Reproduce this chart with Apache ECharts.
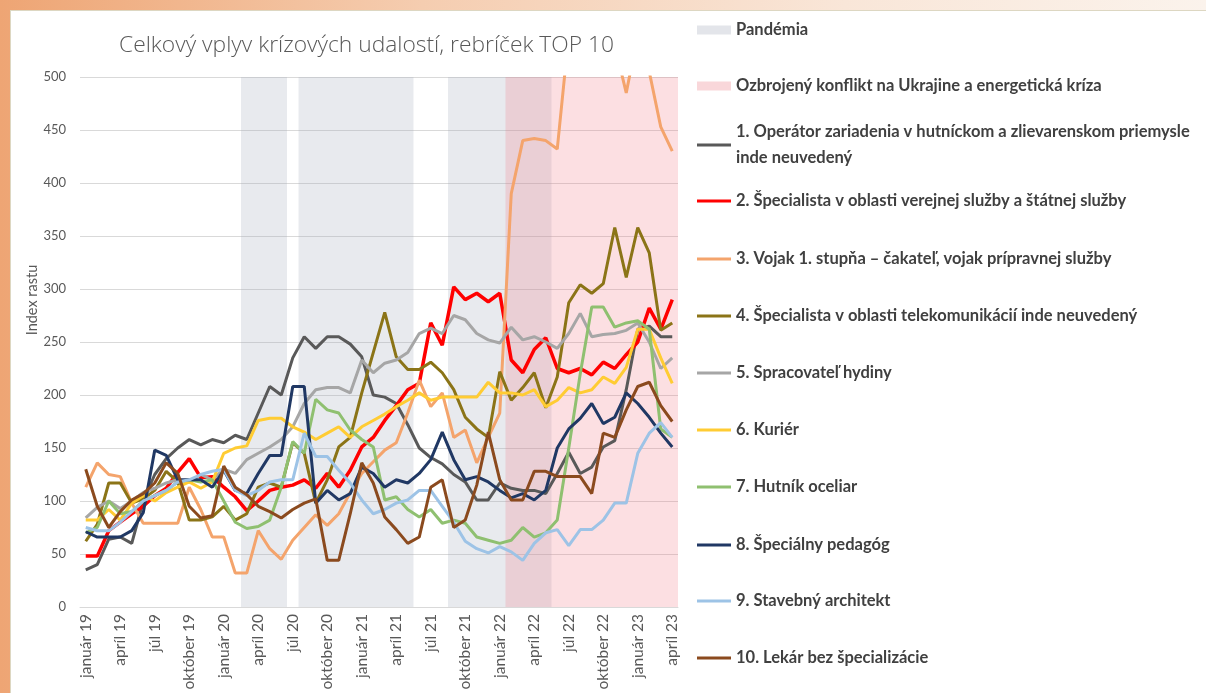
<!DOCTYPE html>
<html>
<head>
<meta charset="utf-8">
<script src="https://cdn.jsdelivr.net/npm/echarts/dist/echarts.min.js"></script>
<style>
  html, body { margin: 0; padding: 0; }
  #wrap { position: relative; width: 1206px; height: 693px; overflow: hidden;
          background: linear-gradient(90deg, #eea574 0%, #f5cdb0 35%, #f9e6d8 70%, #fbf3ec 100%); }
  #panel { position: absolute; left: 10px; top: 10px; right: 0; bottom: 0; background: #fff;
           border-top: 1px solid #ddd7c2; border-left: 1px solid #ddd7c2; }
  #chart { position: absolute; left: 0; top: 0; width: 1206px; height: 693px; }
</style>
</head>
<body>
<div id="wrap"><div id="panel"></div><div id="chart"></div></div>
<script>
// kategórie (mesiace jan 2019 - apr 2023)
const months = [
  'január 19','február 19','marec 19','apríl 19','máj 19','jún 19','júl 19','august 19','september 19','október 19','november 19','december 19',
  'január 20','február 20','marec 20','apríl 20','máj 20','jún 20','júl 20','august 20','september 20','október 20','november 20','december 20',
  'január 21','február 21','marec 21','apríl 21','máj 21','jún 21','júl 21','august 21','september 21','október 21','november 21','december 21',
  'január 22','február 22','marec 22','apríl 22','máj 22','jún 22','júl 22','august 22','september 22','október 22','november 22','december 22',
  'január 23','február 23','marec 23','apríl 23'
];

// obdobia (index mesiaca od - do)
const pandemicBands = [[14, 18], [19, 29], [32, 41]];
const conflictBands = [[37, 52]];

const bandNames = ['Pandémia', 'Ozbrojený konflikt na Ukrajine a energetická kríza'];
const seriesNames = [
  '1. Operátor zariadenia v hutníckom a zlievarenskom priemysle inde neuvedený',
  '2. Špecialista v oblasti verejnej služby a štátnej služby',
  '3. Vojak 1. stupňa – čakateľ, vojak prípravnej služby',
  '4. Špecialista v oblasti telekomunikácií inde neuvedený',
  '5. Spracovateľ hydiny',
  '6. Kuriér',
  '7. Hutník oceliar',
  '8. Špeciálny pedagóg',
  '9. Stavebný architekt',
  '10. Lekár bez špecializácie'
];

const operator = [35,40,64,66,60,100,125,140,150,158,153,158,155,162,158,183,208,200,235,255,244,255,255,248,236,200,198,192,172,150,141,135,125,118,101,101,117,112,110,110,107,126,146,126,132,151,157,205,262,265,255,255];
const specVerejna = [48,48,72,80,88,95,105,112,127,140,122,123,113,104,91,100,110,113,115,120,112,126,113,129,151,160,176,190,205,211,268,247,302,290,296,288,296,233,221,243,254,225,221,225,219,231,225,238,250,282,262,290];
const vojak = [113,136,125,123,98,79,79,79,79,113,92,66,66,32,32,72,55,45,63,75,87,77,88,108,126,137,148,155,183,214,189,202,160,167,136,160,183,390,440,442,440,432,540,570,580,560,530,485,540,505,453,430];
const specTelekom = [62,78,117,117,98,102,110,128,118,82,82,85,95,82,88,113,117,113,155,145,98,120,151,160,202,240,278,236,224,224,231,221,205,179,168,160,222,195,207,221,188,217,287,304,296,305,358,311,358,334,261,268];
const hydina = [84,94,100,93,100,108,112,117,120,118,125,120,130,126,139,145,151,158,170,192,205,207,207,202,233,221,230,233,240,258,263,258,275,271,258,252,249,264,252,255,250,244,258,277,255,257,258,261,268,250,225,235];
const kurier = [82,82,92,82,98,105,100,108,113,118,112,118,145,150,152,176,178,178,170,165,158,164,170,160,170,176,182,189,195,202,195,198,198,198,198,212,202,202,200,205,189,195,207,202,205,217,211,226,262,262,235,211];
const hutnik = [70,75,100,88,90,100,105,110,118,120,118,120,100,80,74,76,82,113,156,145,196,186,183,167,158,151,101,104,92,85,92,79,82,79,66,63,60,63,75,66,70,82,150,220,283,283,264,268,270,262,168,160];
const pedagog = [71,66,66,66,72,89,148,143,120,120,120,113,129,110,107,126,143,143,208,208,98,110,101,107,132,126,113,120,117,126,139,165,139,120,123,118,110,103,107,101,110,150,168,178,192,173,179,202,192,179,164,151];
const architekt = [75,72,72,80,90,100,105,110,118,120,125,128,130,110,105,110,118,120,120,164,142,142,129,117,101,88,92,98,101,110,110,95,80,62,55,51,57,52,44,60,70,73,58,73,73,82,98,98,145,164,174,160];
const lekar = [130,95,75,90,101,107,117,136,126,95,84,86,133,113,106,95,90,84,92,98,102,44,44,88,136,117,85,73,60,66,113,120,75,82,115,165,120,101,101,128,128,123,123,123,107,164,160,186,208,212,190,175];

const seriesData = [operator, specVerejna, vojak, specTelekom, hydina, kurier, hutnik, pedagog, architekt, lekar];
const seriesColors = ['#595959', '#FF0000', '#F4A46C', '#8B7417', '#A6A6A6', '#FFCC33', '#8FC070', '#203864', '#9DC3E6', '#8B4A1E'];

const legendY = [30, 86, 145, 201, 259, 316, 373, 430, 487, 545, 601, 658];
const font = 'Lato, "Open Sans", sans-serif';

const chart = echarts.init(document.getElementById('chart'));

const lineSeries = seriesNames.map((name, i) => ({
  name: name,
  type: 'line',
  data: seriesData[i],
  symbol: 'none',
  xAxisIndex: 0,
  color: seriesColors[i],
  lineStyle: { width: i === 1 ? 3.5 : 3, color: seriesColors[i] },
  itemStyle: { color: seriesColors[i] },
  emphasis: { disabled: true },
  z: 3 + i
}));

function bandSeries(name, bands, legendColor, fill) {
  return {
    name: name,
    type: 'line',
    xAxisIndex: 1,
    data: [],
    symbol: 'none',
    color: legendColor,
    itemStyle: { color: legendColor },
    lineStyle: { width: 0 },
    markArea: {
      silent: true,
      itemStyle: { color: fill },
      data: bands.map(b => [{ xAxis: b[0] }, { xAxis: b[1] }])
    },
    z: 1
  };
}

const allNames = bandNames.concat(seriesNames);

chart.setOption({
  animation: false,
  backgroundColor: 'transparent',
  title: {
    text: 'Celkový vplyv krízových udalostí, rebríček TOP 10',
    left: 119, top: 34, padding: 0,
    textStyle: { fontFamily: '"Open Sans", Lato, sans-serif', fontWeight: 300, fontSize: 22.8, color: '#595959' }
  },
  grid: { left: 80, right: 528, top: 77, bottom: 86 },
  legend: allNames.map((n, k) => {
    const two = k === 2;
    const l = {
      data: [{ name: n, icon: 'rect' }],
      left: 697,
      top: legendY[k] - (two ? 39 : 9),
      padding: 0,
      itemWidth: 34,
      itemHeight: k < 2 ? 9 : 3,
      selectedMode: false,
      textStyle: {
        color: '#404040', fontFamily: font, fontWeight: 'bold', fontSize: 16.5,
        lineHeight: two ? 26 : 18, padding: two ? [26, 0, 0, 0] : 0
      }
    };
    if (two) l.formatter = s => s.replace(' priemysle ', ' priemysle\n');
    return l;
  }),
  xAxis: [{
    type: 'category',
    data: months,
    boundaryGap: true,
    axisLine: { lineStyle: { color: '#D9D9D9', width: 1 } },
    axisTick: { show: false },
    axisLabel: { rotate: 90, interval: 2, color: '#595959', fontFamily: font, fontSize: 15.5, margin: 7 }
  }, {
    type: 'value', min: 0, max: 52, show: false
  }],
  yAxis: {
    type: 'value', min: 0, max: 500, interval: 50,
    name: 'Index rastu', nameLocation: 'middle', nameGap: 40,
    nameTextStyle: { color: '#595959', fontFamily: font, fontSize: 14.5, padding: [0, 0, 0, 84] },
    axisLine: { show: false },
    axisTick: { show: false },
    axisLabel: { color: '#595959', fontFamily: font, fontSize: 13, margin: 14 },
    splitLine: { lineStyle: { color: '#D9D9D9', width: 1 } }
  },
  series: [
    bandSeries(bandNames[0], pandemicBands, '#E3E5EA', 'rgba(160,168,185,0.24)'),
    bandSeries(bandNames[1], conflictBands, '#F9D7DA', 'rgba(240,110,122,0.22)')
  ].concat(lineSeries)
});
</script>
</body>
</html>
